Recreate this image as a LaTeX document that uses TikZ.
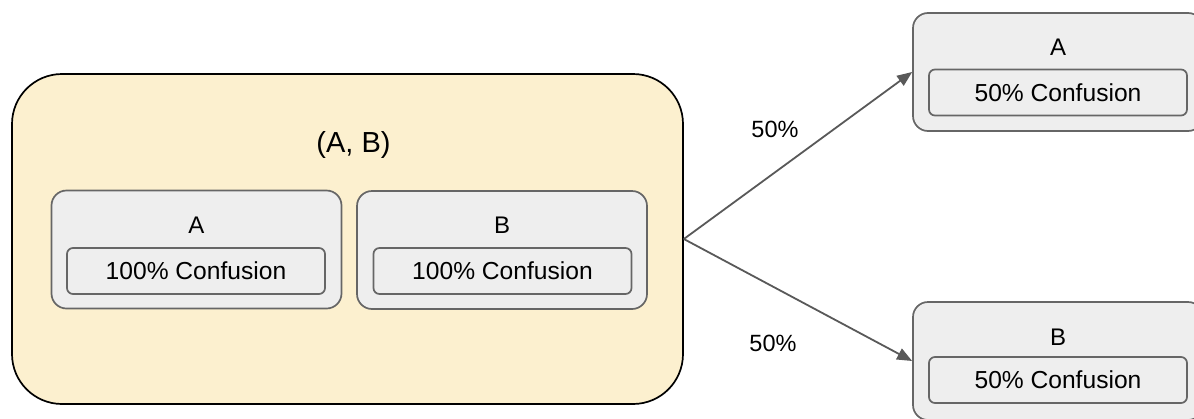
\documentclass[tikz,border=0pt]{standalone}
\usepackage{fontspec}
\setmainfont{Liberation Sans}
\usetikzlibrary{arrows.meta}
\definecolor{groupfill}{HTML}{FCF0CF}
\definecolor{cardfill}{HTML}{EEEEEE}
\definecolor{cardline}{HTML}{666666}
\definecolor{arrowgray}{HTML}{595959}
\tikzset{
  groupbox/.style={draw=black, line width=1.7pt, fill=groupfill, rounded corners=50pt,
    rectangle, inner sep=0pt, minimum width=671pt, minimum height=330pt},
  card/.style={draw=cardline, line width=1.7pt, fill=cardfill, rounded corners=15pt,
    rectangle, inner sep=0pt, minimum width=290pt, minimum height=118pt},
  pill/.style={draw=cardline, line width=1.7pt, fill=cardfill, rounded corners=6pt,
    rectangle, inner sep=0pt, minimum width=258pt, minimum height=46pt,
    font=\fontsize{24.6}{28}\selectfont},
  lbl/.style={inner sep=0pt, anchor=base, font=\fontsize{24}{28}\selectfont},
  pctlbl/.style={inner sep=0pt, anchor=base, font=\fontsize{23.5}{28}\selectfont},
  biglbl/.style={inner sep=0pt, anchor=base, font=\fontsize{29}{34}\selectfont},
  arr/.style={draw=arrowgray, line width=1.8pt, -{Triangle[length=15pt,width=12pt]}},
}
\begin{document}
\begin{tikzpicture}[x=1pt,y=-1pt]
\useasboundingbox (0,0) rectangle (1194,418);

% pair container
\node[groupbox] (ab) at (347.5,239) {};
\node[biglbl] (abl) at (353.5,152) {(A, B)};

% cards inside the pair
\node[card] (ia) at (196.5,249.5) {};
\node[lbl] (ial) at (196.5,233) {A};
\node[pill] (iac) at (196,271) {100\% Confusion};

\node[card] (ib) at (502,250) {};
\node[lbl] (ibl) at (502,233) {B};
\node[pill] (ibc) at (502.5,271) {100\% Confusion};

% split outcomes
\node[card] (ra) at (1058,72) {};
\node[lbl] (ral) at (1058,55) {A};
\node[pill] (rac) at (1058,92.5) {50\% Confusion};

\node[card] (rb) at (1058,361) {};
\node[lbl] (rbl) at (1058,345) {B};
\node[pill] (rbc) at (1058,380) {50\% Confusion};

% branches
\draw[arr] (ab.east) -- (ra.west);
\draw[arr] (ab.east) -- (rb.west);
\node[pctlbl] (pa) at (775,137) {50\%};
\node[pctlbl] (pb) at (773,351) {50\%};
\end{tikzpicture}
\end{document}
